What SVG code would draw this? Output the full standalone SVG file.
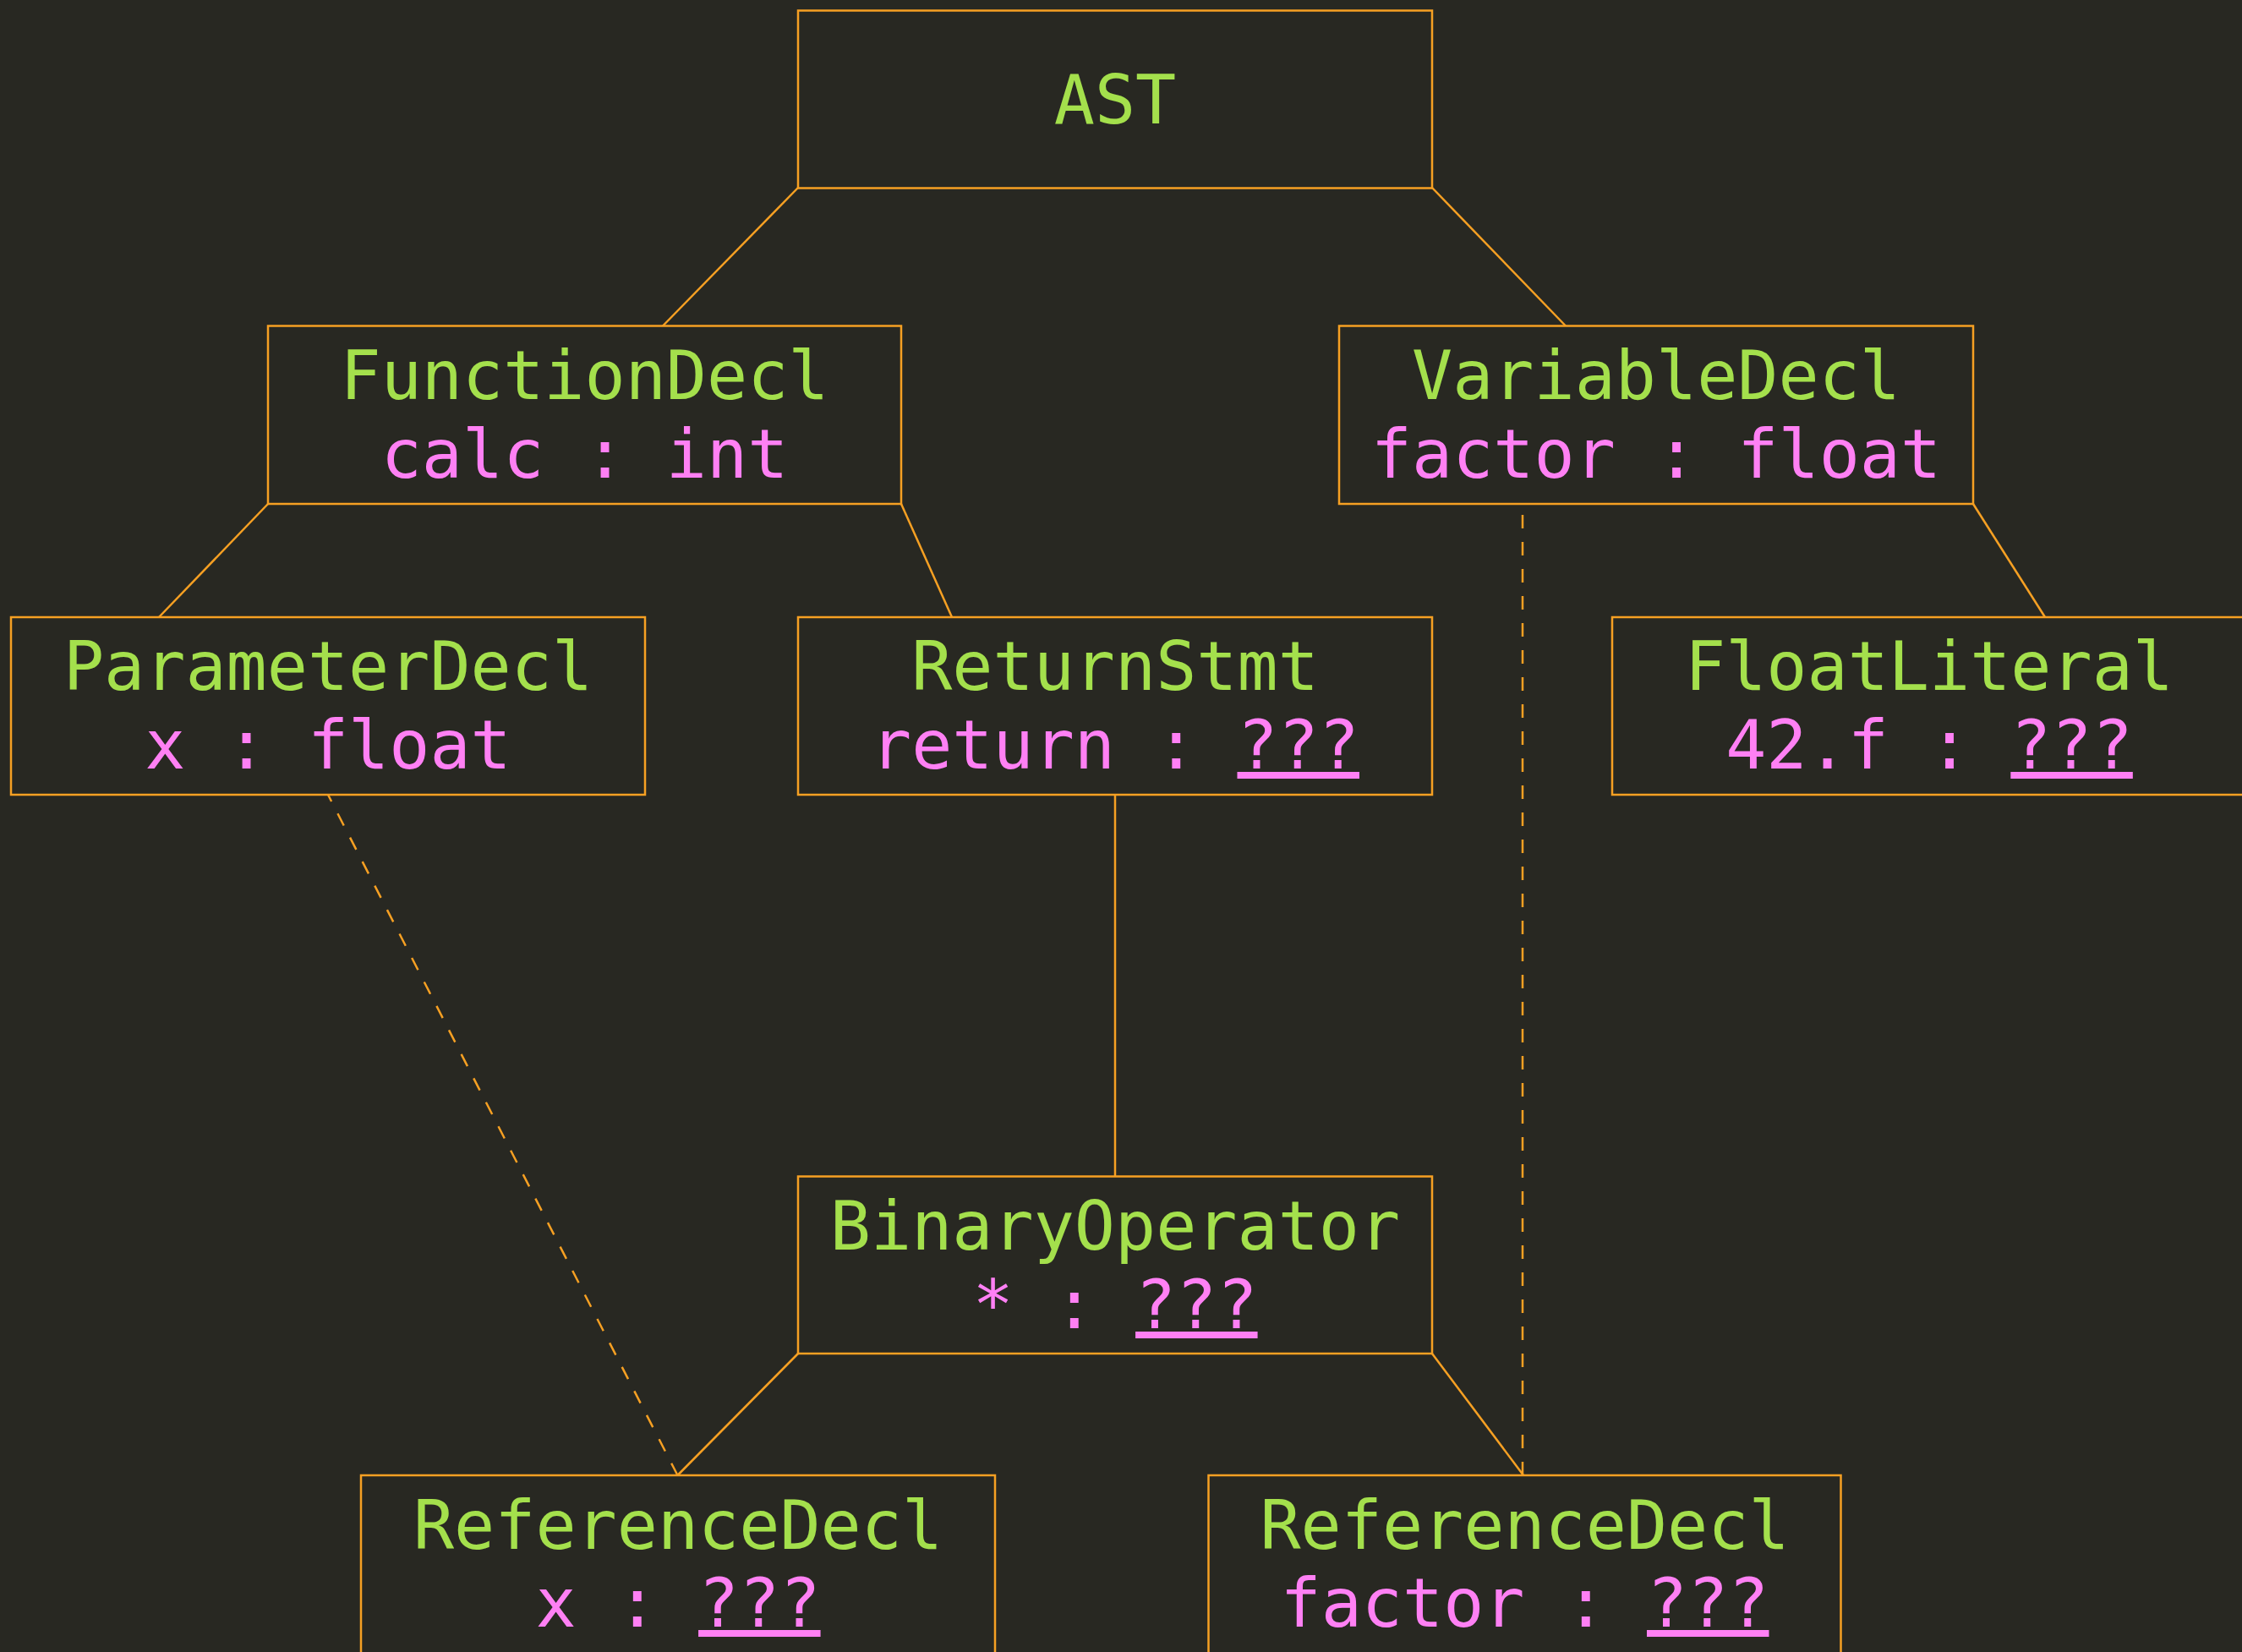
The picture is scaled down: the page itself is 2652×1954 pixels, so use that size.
<svg xmlns="http://www.w3.org/2000/svg" width="2652" height="1954" viewBox="0 0 2652 1954">
  <style>
    .box { fill: #282822; stroke: #F6A023; stroke-width: 2.5; }
    .edge { fill: none; stroke: #F6A023; stroke-width: 2.5; }
    .ref { stroke-dasharray: 16 16; }
    text { font-family: "DejaVu Sans Mono", "Liberation Mono", monospace; font-size: 80px; text-anchor: middle; }
    .kind { fill: #A4E04C; }
    .info { fill: #FF80F4; }
    .unknown { text-decoration: underline; }
  </style>
  <rect width="2652" height="1954" fill="#282822"/>

  <!-- tree edges (solid) and declaration references (dashed, drawn from the use back to the declaration) -->
  <g id="connectors">
    <line class="edge" x1="944" y1="222" x2="784" y2="385.5"/>
    <line class="edge" x1="1694" y1="222" x2="1852" y2="385.5"/>
    <line class="edge" x1="317" y1="596" x2="188" y2="730"/>
    <line class="edge" x1="1066" y1="596" x2="1126" y2="730"/>
    <line class="edge" x1="2334" y1="596" x2="2419" y2="730"/>
    <line class="edge" x1="1319" y1="940" x2="1319" y2="1391.5"/>
    <line class="edge" x1="944" y1="1601" x2="801.5" y2="1745"/>
    <line class="edge" x1="1694" y1="1601" x2="1802" y2="1745"/>
    <line class="edge ref" x1="801.5" y1="1745" x2="388" y2="940"/>
    <line class="edge ref" x1="1801" y1="1745" x2="1801" y2="596"/>
  </g>

  <g id="ast">
    <rect class="box" x="944" y="12.5" width="750" height="210"/>
    <text class="kind" x="1319" y="146">AST</text>
  </g>

  <g id="function-decl">
    <rect class="box" x="317" y="385.5" width="749" height="210.5"/>
    <text class="kind" x="691.5" y="472">FunctionDecl</text>
    <text class="info" x="691.5" y="565">calc : int</text>
  </g>

  <g id="variable-decl">
    <rect class="box" x="1584" y="385.5" width="750" height="210.5"/>
    <text class="kind" x="1959" y="472">VariableDecl</text>
    <text class="info" x="1959" y="565">factor : float</text>
  </g>

  <g id="parameter-decl">
    <rect class="box" x="13" y="730" width="750" height="210"/>
    <text class="kind" x="388" y="816">ParameterDecl</text>
    <text class="info" x="388" y="909">x : float</text>
  </g>

  <g id="return-stmt">
    <rect class="box" x="944" y="730" width="750" height="210"/>
    <text class="kind" x="1319" y="816">ReturnStmt</text>
    <text class="info" x="1319" y="909">return : <tspan class="unknown">???</tspan></text>
  </g>

  <g id="float-literal">
    <rect class="box" x="1907" y="730" width="750" height="210"/>
    <text class="kind" x="2282" y="816">FloatLiteral</text>
    <text class="info" x="2282" y="909">42.f : <tspan class="unknown">???</tspan></text>
  </g>

  <g id="binary-operator">
    <rect class="box" x="944" y="1391.5" width="750" height="209.5"/>
    <text class="kind" x="1319" y="1478">BinaryOperator</text>
    <text class="info" x="1319" y="1571">* : <tspan class="unknown">???</tspan></text>
  </g>

  <g id="reference-x">
    <rect class="box" x="427" y="1745" width="750" height="211"/>
    <text class="kind" x="802" y="1832">ReferenceDecl</text>
    <text class="info" x="802" y="1924">x : <tspan class="unknown">???</tspan></text>
  </g>

  <g id="reference-factor">
    <rect class="box" x="1429.5" y="1745" width="748" height="211"/>
    <text class="kind" x="1803.5" y="1832">ReferenceDecl</text>
    <text class="info" x="1803.5" y="1924">factor : <tspan class="unknown">???</tspan></text>
  </g>
</svg>
